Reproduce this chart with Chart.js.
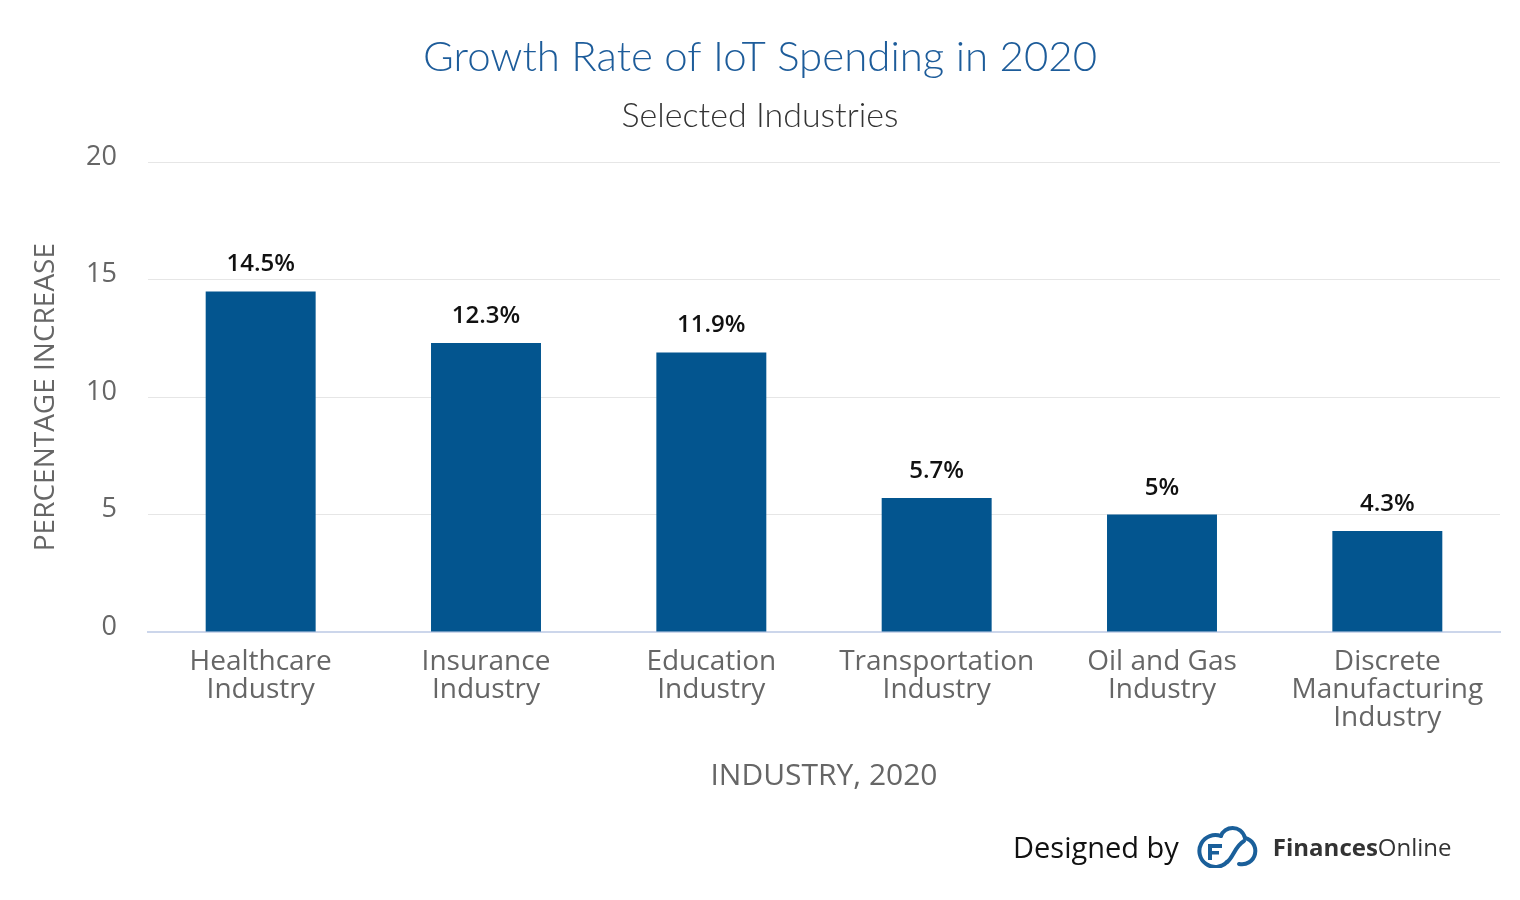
<!DOCTYPE html>
<html>
<head>
<meta charset="utf-8">
<script src="https://cdn.jsdelivr.net/npm/chart.js@4.4.0/dist/chart.umd.min.js"></script>
<style>
  html, body { margin: 0; padding: 0; background: #ffffff; }
  #wrap { position: relative; width: 1520px; height: 900px; overflow: hidden; }
  canvas { display: block; }
  #footer { position: absolute; left: 1013px; top: 824px; height: 44px; display: flex; align-items: center; white-space: nowrap; }
  #footer .by { font-family: "Open Sans", sans-serif; font-size: 29px; color: #111; margin-right: 14px; }
  #footer svg { margin-right: 10px; }
  #footer .brand { font-family: "Open Sans", sans-serif; font-size: 24px; color: #333; }
  #footer .brand b { font-weight: 700; }
</style>
</head>
<body>
<div id="wrap">
  <canvas id="c" width="1520" height="900"></canvas>
  <div id="footer">
    <span class="by">Designed by</span>
    <svg width="70" height="44" viewBox="0 0 70 44">
      <g fill="none" stroke="#1a5f9a" stroke-width="4" stroke-linecap="round">
        <path d="M 28 12 A 16 16 0 1 0 34 38"/>
        <path d="M 28 12 C 31 2, 48 0, 52 14"/>
        <path d="M 52 14 A 12 12 0 1 1 46 40"/>
        <path d="M 34 38 C 40 34, 42 22, 51 17"/>
      </g>
      <g fill="#1a5f9a">
        <rect x="15" y="20" width="4" height="16"/>
        <rect x="15" y="20" width="14" height="4"/>
        <rect x="15" y="27" width="11" height="3.5"/>
      </g>
    </svg>
    <span class="brand"><b>Finances</b>Online</span>
  </div>
</div>
<script>
// ---- Data ----
const categories = [
  ["Healthcare", "Industry"],
  ["Insurance", "Industry"],
  ["Education", "Industry"],
  ["Transportation", "Industry"],
  ["Oil and Gas", "Industry"],
  ["Discrete", "Manufacturing", "Industry"]
];
const growthValues = [14.5, 12.3, 11.9, 5.7, 5, 4.3];
const yTickValues = [0, 5, 10, 15, 20];
const titleText = "Growth Rate of IoT Spending in 2020";
const subtitleText = "Selected Industries";
const yAxisTitle = "PERCENTAGE INCREASE";
const xAxisTitle = "INDUSTRY, 2020";
const dataLabels = growthValues.map(v => String(v) + "%");

// ---- Plugin for value labels above bars ----
const barLabelPlugin = {
  id: "barLabels",
  afterDatasetsDraw(chart) {
    const ctx = chart.ctx;
    const meta = chart.getDatasetMeta(0);
    ctx.save();
    ctx.font = '600 24px "Open Sans", sans-serif';
    ctx.fillStyle = "#111111";
    ctx.textAlign = "center";
    ctx.textBaseline = "alphabetic";
    meta.data.forEach((bar, i) => {
      ctx.fillText(dataLabels[i], bar.x, bar.y - 20);
    });
    ctx.restore();
  }
};

function build() {
  new Chart(document.getElementById("c"), {
    type: "bar",
    data: {
      labels: categories,
      datasets: [{
        data: growthValues,
        backgroundColor: "#03558f",
        borderWidth: 0,
        categoryPercentage: 1.0,
        barPercentage: 0.488
      }]
    },
    options: {
      responsive: false,
      animation: false,
      devicePixelRatio: 1,
      layout: { padding: { top: 0, left: 20, right: 20, bottom: 0 } },
      plugins: {
        legend: { display: false },
        tooltip: { enabled: false },
        title: {
          display: true,
          text: titleText,
          color: "#1d5c9a",
          font: { family: "Lato", size: 42, weight: 300, lineHeight: 1.2 },
          padding: { top: 32, bottom: 0 }
        },
        subtitle: {
          display: true,
          text: subtitleText,
          color: "#333333",
          font: { family: "Lato", size: 34, weight: 300, lineHeight: 1.2 },
          padding: { top: 13, bottom: 26 }
        }
      },
      scales: {
        x: {
          grid: { display: false },
          border: { display: true, color: "#ccd6eb", width: 2 },
          ticks: {
            color: "#666666",
            font: { family: "Open Sans", size: 28, lineHeight: 1.0 },
            padding: 8,
            maxRotation: 0,
            autoSkip: false
          },
          title: {
            display: true,
            text: xAxisTitle,
            color: "#666666",
            font: { family: "Open Sans", size: 30, lineHeight: 1.2 },
            padding: { top: 0, bottom: 106 }
          },
          afterFit(scale) { scale.height = 268; }
        },
        y: {
          min: 0,
          max: 20,
          afterBuildTicks(scale) { scale.ticks = yTickValues.map(v => ({ value: v })); },
          grid: {
            color: "#e6e6e6",
            lineWidth: 1,
            drawTicks: false
          },
          border: { display: false },
          ticks: {
            color: "#666666",
            font: { family: "Open Sans", size: 27 },
            padding: 31,
            labelOffset: -5
          },
          title: {
            display: true,
            text: yAxisTitle,
            color: "#666666",
            font: { family: "Open Sans", size: 28, lineHeight: 1.2 },
            padding: { top: 9, bottom: 0 }
          },
          afterFit(scale) { scale.width = 128; }
        }
      }
    },
    plugins: [barLabelPlugin]
  });
}

const fontLoads = [
  '300 42px "Lato"', '300 34px "Lato"', '28px "Open Sans"', '600 24px "Open Sans"', '700 24px "Open Sans"'
].map(f => document.fonts.load(f).catch(() => null));
Promise.all(fontLoads).then(build, build);
</script>
</body>
</html>
